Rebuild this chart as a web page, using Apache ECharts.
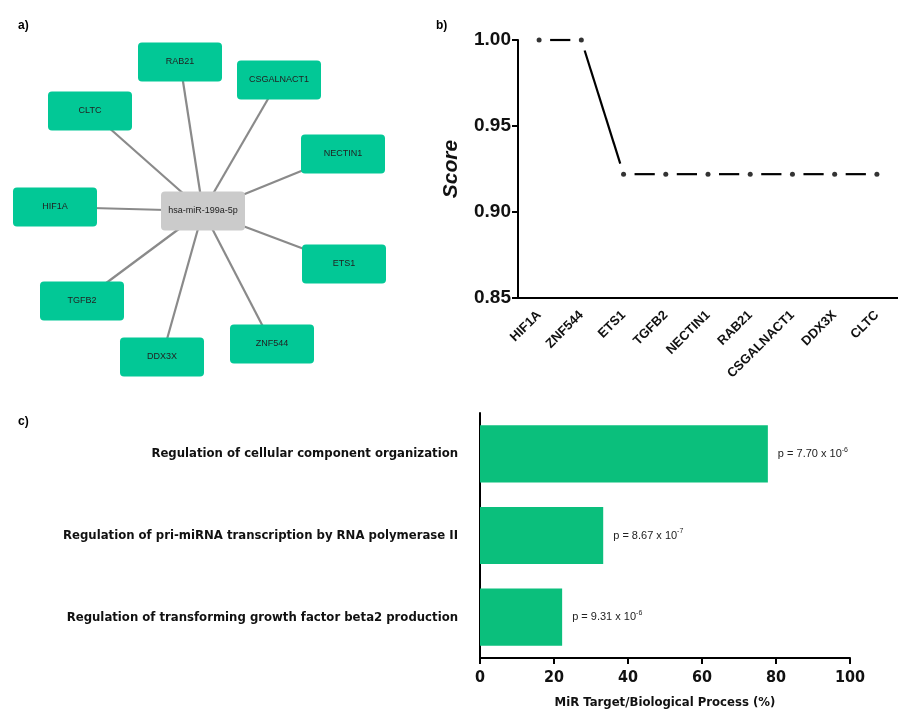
<!DOCTYPE html>
<html>
<head>
<meta charset="utf-8">
<script src="https://cdn.jsdelivr.net/npm/echarts@6/dist/echarts.min.js"></script>
<style>
  html, body { margin: 0; padding: 0; background: #fff; }
  #main { width: 898px; height: 711px; }
</style>
</head>
<body>
<div id="main"></div>
<script>
  // a) network: hub + targets, positions as laid out in the figure
  var hubName = 'hsa-miR-199a-5p';
  var nodeNames = ['hsa-miR-199a-5p', 'RAB21', 'CSGALNACT1', 'CLTC', 'NECTIN1', 'HIF1A', 'ETS1', 'TGFB2', 'ZNF544', 'DDX3X'];
  var nodeX = [203, 180, 279, 90, 343, 55, 344, 82, 272, 162];
  var nodeY = [211, 62, 80, 111, 154, 207, 264, 301, 344, 357];

  // b) score per target
  var genes = ['HIF1A', 'ZNF544', 'ETS1', 'TGFB2', 'NECTIN1', 'RAB21', 'CSGALNACT1', 'DDX3X', 'CLTC'];
  var scores = [1.0, 1.0, 0.922, 0.922, 0.922, 0.922, 0.922, 0.922, 0.922];

  // c) GO processes
  var processes = [
    'Regulation of cellular component organization',
    'Regulation of pri-miRNA transcription by RNA polymerase II',
    'Regulation of transforming growth factor beta2 production'
  ];
  var percents = [77.8, 33.3, 22.2];
  var pMantissa = ['7.70', '8.67', '9.31'];
  var pExponent = ['-6', '-7', '-6'];

  var narrow = '"Liberation Sans Narrow", "DejaVu Sans Condensed", "Liberation Sans", sans-serif';
  var arial = '"Liberation Sans", Arial, sans-serif';

  // box with small rounded corners (the built-in roundRect is too round)
  var boxPath = 'path://M4,0 H80 Q84,0 84,4 V35 Q84,39 80,39 H4 Q0,39 0,35 V4 Q0,0 4,0 Z';

  var graphNodes = nodeNames.map(function (n, i) {
    var isHub = n === hubName;
    return {
      name: n,
      value: [nodeX[i], nodeY[i]],
      itemStyle: { color: isHub ? '#cbcbcb' : '#02c896' }
    };
  });
  var graphLinks = nodeNames.filter(function (n) { return n !== hubName; }).map(function (n) {
    return { source: hubName, target: n };
  });

  var gapPx = 11;
  function dashSegment(params, api) {
    var i = params.dataIndex;
    if (i === 0) return null;
    var p0 = api.coord([i - 1, scores[i - 1]]);
    var p1 = api.coord([i, api.value(1)]);
    var dx = p1[0] - p0[0], dy = p1[1] - p0[1];
    var len = Math.sqrt(dx * dx + dy * dy);
    var ux = dx / len, uy = dy / len;
    return {
      type: 'line',
      shape: {
        x1: p0[0] + ux * gapPx, y1: p0[1] + uy * gapPx,
        x2: p1[0] - ux * gapPx, y2: p1[1] - uy * gapPx
      },
      style: { stroke: '#000', lineWidth: 2.2 }
    };
  }

  var option = {
    animation: false,
    backgroundColor: '#fff',
    title: [
      { text: 'a)', left: 13, top: 15, textStyle: { fontSize: 12, fontWeight: 'bold', color: '#000', fontFamily: arial } },
      { text: 'b)', left: 431, top: 15, textStyle: { fontSize: 12, fontWeight: 'bold', color: '#000', fontFamily: arial } },
      { text: 'c)', left: 13, top: 411, textStyle: { fontSize: 12, fontWeight: 'bold', color: '#000', fontFamily: arial } }
    ],
    grid: [
      { left: 0, top: 0, width: 420, height: 390 },
      { left: 518, top: 40, right: -9, height: 258 },
      { left: 480, top: 413, width: 370, height: 245 }
    ],
    xAxis: [
      { gridIndex: 0, type: 'value', min: 0, max: 420, show: false },
      {
        gridIndex: 1, type: 'category', data: genes,
        axisLine: { lineStyle: { color: '#000', width: 2 } },
        axisTick: { alignWithLabel: true, length: 6, lineStyle: { color: '#000', width: 2 } },
        axisLabel: { rotate: 45, margin: 15, fontSize: 13, fontWeight: 'bold', color: '#111', fontFamily: arial }
      },
      {
        gridIndex: 2, type: 'value', min: 0, max: 100, interval: 20,
        splitLine: { show: false },
        axisLine: { show: true, lineStyle: { color: '#000', width: 2 } },
        axisTick: { show: true, length: 6, lineStyle: { color: '#000', width: 2 } },
        axisLabel: { margin: 12, fontSize: 16, fontWeight: 'bold', color: '#111', fontFamily: narrow },
        name: 'MiR Target/Biological Process (%)',
        nameLocation: 'middle', nameGap: 38,
        nameTextStyle: { fontSize: 13, fontWeight: 'bold', color: '#111', fontFamily: narrow }
      }
    ],
    yAxis: [
      { gridIndex: 0, type: 'value', min: 0, max: 390, inverse: true, show: false },
      {
        gridIndex: 1, type: 'value', min: 0.85, max: 1.0, interval: 0.05,
        splitLine: { show: false },
        axisLine: { show: true, lineStyle: { color: '#000', width: 2 } },
        axisTick: { show: true, length: 6, lineStyle: { color: '#000', width: 2 } },
        axisLabel: {
          margin: 7, fontSize: 19, fontWeight: 'bold', color: '#111', fontFamily: arial,
          formatter: function (v) { return v.toFixed(2); }
        },
        name: 'Score', nameLocation: 'middle', nameGap: 56,
        nameTextStyle: { fontSize: 21, fontWeight: 'bold', fontStyle: 'italic', color: '#111', fontFamily: arial }
      },
      {
        gridIndex: 2, type: 'category', data: processes, inverse: true,
        axisLine: { lineStyle: { color: '#000', width: 2 } },
        axisTick: { alignWithLabel: true, length: 7, lineStyle: { color: '#000', width: 2 } },
        axisLabel: { margin: 22, fontSize: 13, fontWeight: 'bold', color: '#111', fontFamily: narrow }
      }
    ],
    series: [
      {
        type: 'graph',
        coordinateSystem: 'cartesian2d',
        xAxisIndex: 0, yAxisIndex: 0,
        symbol: boxPath,
        symbolKeepAspect: false,
        symbolSize: [84, 39],
        data: graphNodes,
        links: graphLinks,
        lineStyle: { color: '#8a8a8a', width: 2.2, opacity: 1, curveness: 0 },
        label: { show: true, position: 'inside', fontSize: 9, color: '#222', fontFamily: arial },
        z: 2
      },
      {
        type: 'custom',
        xAxisIndex: 1, yAxisIndex: 1,
        renderItem: dashSegment,
        data: scores.map(function (v, i) { return [i, v]; }),
        z: 2
      },
      {
        type: 'scatter',
        xAxisIndex: 1, yAxisIndex: 1,
        data: scores,
        symbolSize: 5,
        itemStyle: { color: '#000' },
        z: 3
      },
      {
        type: 'bar',
        xAxisIndex: 2, yAxisIndex: 2,
        data: percents,
        barWidth: '70%',
        itemStyle: { color: '#0bbf7c' },
        label: {
          show: true, position: 'right', distance: 10,
          fontSize: 11, color: '#222', fontFamily: arial,
          formatter: function (p) {
            return 'p = ' + pMantissa[p.dataIndex] + ' x 10{sup|' + pExponent[p.dataIndex] + '}';
          },
          rich: {
            sup: { fontSize: 7, color: '#222', fontFamily: arial, padding: [0, 0, 8, 0] }
          }
        }
      }
    ]
  };

  var chart = echarts.init(document.getElementById('main'), null, { renderer: 'canvas' });
  chart.setOption(option);
</script>
</body>
</html>
